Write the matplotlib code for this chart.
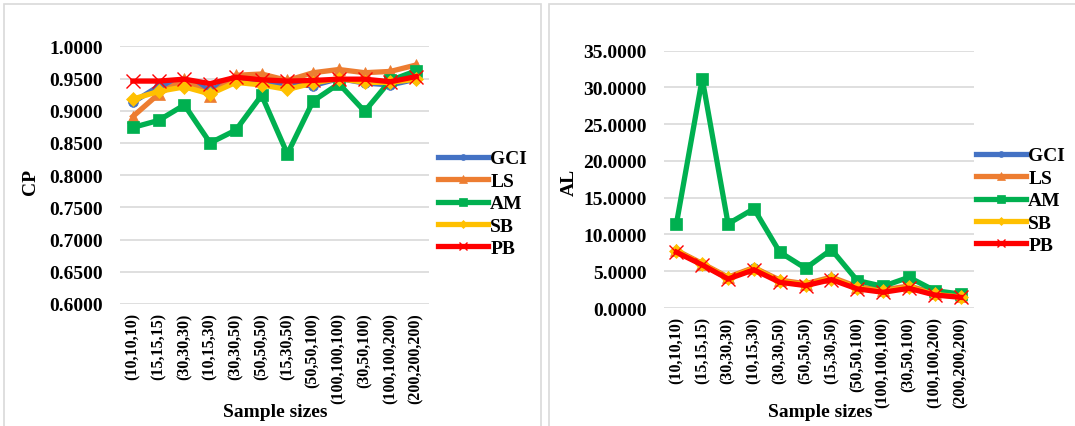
import numpy as np
import matplotlib
matplotlib.use("Agg")
import matplotlib.pyplot as plt
from matplotlib.patches import Rectangle

# sample size settings (n1, n2, n3)
sizes = ["(10,10,10)", "(15,15,15)", "(30,30,30)", "(10,15,30)", "(30,30,50)", "(50,50,50)",
         "(15,30,50)", "(50,50,100)", "(100,100,100)", "(30,50,100)", "(100,100,200)", "(200,200,200)"]

# coverage probability
cp_gci = [0.913, 0.938, 0.946, 0.933, 0.947, 0.945, 0.941, 0.939, 0.950, 0.943, 0.940, 0.949]
cp_ls = [0.891, 0.926, 0.949, 0.923, 0.955, 0.957, 0.947, 0.959, 0.964, 0.959, 0.961, 0.971]
cp_am = [0.874, 0.885, 0.909, 0.850, 0.870, 0.924, 0.833, 0.915, 0.942, 0.899, 0.947, 0.962]
cp_sb = [0.918, 0.930, 0.937, 0.926, 0.944, 0.940, 0.933, 0.943, 0.950, 0.944, 0.944, 0.949]
cp_pb = [0.946, 0.946, 0.949, 0.942, 0.952, 0.948, 0.946, 0.947, 0.949, 0.949, 0.945, 0.953]

# average length
al_gci = [7.75, 5.95, 4.05, 5.45, 3.65, 3.15, 4.05, 2.75, 2.30, 2.85, 1.90, 1.55]
al_ls = [7.85, 6.05, 4.20, 5.50, 3.80, 3.30, 4.20, 2.90, 2.45, 3.00, 2.00, 1.65]
al_am = [11.45, 31.20, 11.45, 13.50, 7.60, 5.40, 7.95, 3.73, 2.95, 4.18, 2.36, 1.90]
al_sb = [7.70, 5.95, 4.05, 5.35, 3.65, 3.10, 4.00, 2.70, 2.25, 2.80, 1.85, 1.50]
al_pb = [7.60, 5.86, 3.95, 5.20, 3.50, 3.05, 3.86, 2.60, 2.14, 2.68, 1.77, 1.45]

names = ["GCI", "LS", "AM", "SB", "PB"]
colors = ["#4472C4", "#ED7D31", "#00B050", "#FFC000", "#FF0000"]
markers = ["o", "^", "s", "D", "x"]
msizes = [7, 9, 9, 7, 10]

W, H = 1075, 427
plt.rcParams['font.family'] = ['Liberation Serif', 'DejaVu Serif']
plt.rcParams['font.weight'] = 'bold'
fig = plt.figure(figsize=(W / 100, H / 100), dpi=100)


def px_axes(x0, x1, ytop, ybot):
    return fig.add_axes([x0 / W, (H - ybot) / H, (x1 - x0) / W, (ybot - ytop) / H])


# panel frames
for (x0, x1) in [(4, 541), (549, 1080)]:
    fig.patches.append(Rectangle((x0 / W, -0.05), (x1 - x0) / W, (H - 5) / H + 0.05,
                                 transform=fig.transFigure, fill=False,
                                 edgecolor="#d9d9d9", linewidth=1.2))


def draw_panel(ax, series, ylim, step, ylabel, leg_x, leg_y, ylab_x, xlab_x):
    x = np.arange(len(sizes))
    for vals, name, c, m, ms in zip(series, names, colors, markers, msizes):
        ax.plot(x, vals, color=c, linewidth=3.8, marker=m, markersize=ms,
                markeredgewidth=1.0 if m == "x" else 0.5, label=name,
                solid_joinstyle="miter")
    ax.set_xlim(-0.5, len(sizes) - 0.5)
    ax.set_ylim(*ylim)
    ax.set_yticks(np.arange(ylim[0], ylim[1] + step / 2, step))
    ax.yaxis.set_major_formatter(matplotlib.ticker.FormatStrFormatter('%.4f'))
    ax.set_xticks(x)
    ax.set_xticklabels(sizes, rotation=90, fontsize=11.5, fontweight='bold')
    ax.tick_params(axis='y', labelsize=14, length=0, pad=12)
    ax.tick_params(axis='x', length=0, pad=6)
    for s in ax.spines.values():
        s.set_visible(False)
    ax.grid(axis='y', color='#d9d9d9', linewidth=1.2)
    ax.set_axisbelow(True)
    fig.text(ylab_x / W, 1 - 182 / H, ylabel, rotation=90, ha='center', va='center',
             fontsize=14, fontweight='bold')
    fig.text(xlab_x / W, 1 - 413 / H, "Sample sizes", ha='center', va='center',
             fontsize=14, fontweight='bold')
    ax.legend(loc='upper left', bbox_to_anchor=(leg_x / W, 1 - leg_y / H),
              bbox_transform=fig.transFigure, frameon=False, handlelength=2.6,
              handletextpad=0.1, labelspacing=0.25, borderaxespad=0,
              markerscale=0.6, prop={'weight': 'bold', 'size': 14})


ax1 = px_axes(120, 429, 47.3, 305)
draw_panel(ax1, [cp_gci, cp_ls, cp_am, cp_sb, cp_pb], (0.6, 1.0), 0.05, "CP",
           430, 143, 30, 275)

ax2 = px_axes(663.5, 973.5, 51.7, 309)
draw_panel(ax2, [al_gci, al_ls, al_am, al_sb, al_pb], (0.0, 35.0), 5.0, "AL",
           968, 140, 569, 820)

fig.savefig("out.png", dpi=100)
